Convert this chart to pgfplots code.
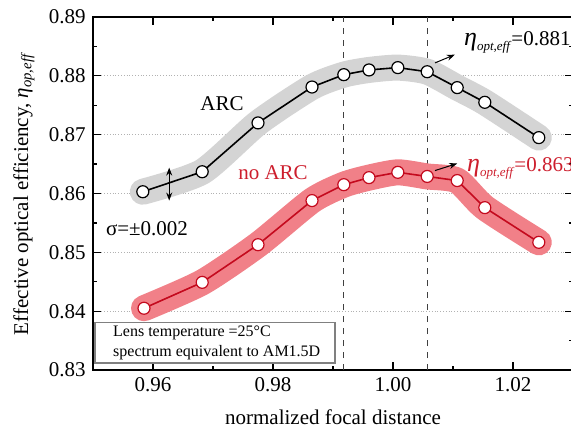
\documentclass[border=0pt]{standalone}
\usepackage{pgfplots}
\pgfplotsset{compat=1.18}
\usepackage{fontspec}
\setmainfont{Liberation Serif}
\usetikzlibrary{arrows.meta}

\definecolor{bandgray}{RGB}{212,212,212}
\definecolor{bandred}{RGB}{241,128,136}
\definecolor{linered}{RGB}{196,10,30}
\definecolor{txtred}{RGB}{205,30,45}

\newcommand{\etaeff}{{\fontsize{13}{13}\selectfont\textit{η}}\raisebox{-2.5pt}{\fontsize{6.5}{7}\selectfont\textit{opt,eff}}}

% ARC
\pgfplotstableread{
x y
0.9583 0.8603
0.9682 0.8637
0.9775 0.8720
0.9865 0.8781
0.9918 0.8802
0.9960 0.8810
1.0008 0.8814
1.0057 0.8807
1.0107 0.8780
1.0153 0.8755
1.0243 0.8695
}\arc
% no ARC
\pgfplotstableread{
x y
0.9585 0.8405
0.9682 0.8449
0.9775 0.8513
0.9865 0.8588
0.9918 0.8615
0.9960 0.8627
1.0008 0.8636
1.0057 0.8629
1.0107 0.8622
1.0153 0.8576
1.0243 0.8517
}\noarc

\begin{document}
\fontsize{10.5}{12.6}\selectfont
\begin{tikzpicture}
\begin{axis}[
    name=ax,
    scale only axis,
    width=240pt, height=176.5pt,
    xmin=0.95, xmax=1.03,
    ymin=0.83, ymax=0.89,
    xtick={0.96,0.98,1.00,1.02},
    xticklabels={0.96,0.98,1.00,1.02},
    ytick={0.83,0.84,...,0.89},
    yticklabels={0.83,0.84,0.85,0.86,0.87,0.88,0.89},
    minor x tick num=1,
    minor y tick num=1,
    tick align=inside,
    major tick length=4pt,
    minor tick length=2pt,
    axis line style={line width=0.75pt},
    every tick/.style={black, line width=0.6pt},
    ymajorgrids=true,
    grid style={gray!60, densely dotted, line width=0.4pt},
    xlabel={normalized focal distance},
    ylabel={Effective optical efficiency, \textit{η}\textsubscript{\textit{op,eff}}},
    xlabel style={yshift=-2pt},
    /pgf/number format/assume math mode=true,
    clip=false,
]
% vertical dashed markers
\draw[dashed, black!75, line width=0.6pt] (axis cs:0.9917,0.83) -- (axis cs:0.9917,0.89);
\draw[dashed, black!75, line width=0.6pt] (axis cs:1.0058,0.83) -- (axis cs:1.0058,0.89);

% bands
\addplot[bandgray, line width=13pt, line cap=round, line join=round, smooth, tension=0.4] table[x=x,y=y] {\arc};
\addplot[bandred, line width=13pt, line cap=round, line join=round, smooth, tension=0.4] table[x=x,y=y] {\noarc};

% lines and markers
\addplot[black, line width=0.8pt, mark=*, mark size=3pt,
    mark options={fill=white, draw=black, line width=0.6pt}] table[x=x,y=y] {\arc};
\addplot[linered, line width=0.8pt, mark=*, mark size=3pt,
    mark options={fill=white, draw=linered, line width=0.6pt}] table[x=x,y=y] {\noarc};

% annotations
\node at (axis cs:0.9715,0.8753) {ARC};
\node[text=txtred] at (axis cs:0.9800,0.8636) {no ARC};
\node at (axis cs:0.9590,0.8541) {σ=±0.002};
\draw[{Stealth[length=4pt]}-{Stealth[length=4pt]}, line width=0.5pt] (axis cs:0.9627,0.8644) -- (axis cs:0.9627,0.8588);

\node[anchor=base west, inner sep=0pt] at (axis cs:1.0118,0.8851)
    {\etaeff=0.881};
\draw[-{Stealth[length=4pt]}, line width=0.5pt] (axis cs:1.0070,0.8822) -- (axis cs:1.0103,0.8836);
\node[anchor=base west, inner sep=0pt, text=txtred] at (axis cs:1.0123,0.8637)
    {\etaeff=0.863};
\draw[-{Stealth[length=4pt]}, line width=0.5pt] (axis cs:1.0070,0.8639) -- (axis cs:1.0107,0.8651);

% info box
\draw[gray, line width=0.7pt, fill=white] (axis cs:0.9503,0.8312) rectangle (axis cs:0.9903,0.8381);
\node[anchor=west, align=left, font=\fontsize{8}{10}\selectfont, inner sep=0pt]
    at (axis cs:0.9533,0.83465) {Lens temperature =25°C\\spectrum equivalent to AM1.5D};
\end{axis}
\pgfresetboundingbox
\path ([xshift=-46.5pt,yshift=-31.5pt]ax.south west) rectangle ([xshift=-1pt,yshift=8.5pt]ax.north east);
\end{tikzpicture}
\end{document}
